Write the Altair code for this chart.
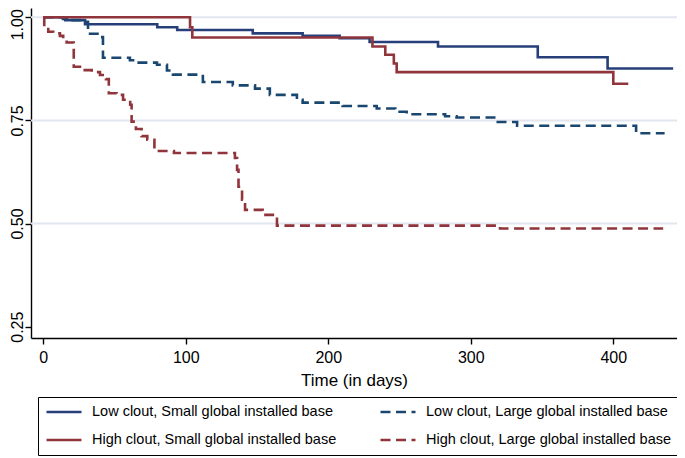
import altair as alt
import pandas as pd

series_names = [
    "Low clout, Small global installed base",
    "Low clout, Large global installed base",
    "High clout, Small global installed base",
    "High clout, Large global installed base",
]
series_colors = ["#263f7a", "#1a476f", "#90353b", "#90353b"]
series_dashes = [[1, 0], [10, 5.5], [1, 0], [10, 5.5]]

# Low clout, Small global installed base
low_small_days = [0, 15.4, 29.3, 80, 94, 147, 182, 208, 229, 277, 347, 396, 442]
low_small_surv = [1.0, 0.993, 0.983, 0.976, 0.969, 0.961, 0.955, 0.949, 0.940, 0.929, 0.903, 0.876, 0.876]

# High clout, Small global installed base
high_small_days = [0, 103, 104.6, 231, 240, 246, 248, 400, 410.5]
high_small_surv = [1.0, 0.976, 0.951, 0.929, 0.909, 0.888, 0.867, 0.839, 0.839]

# Low clout, Large global installed base
low_large_days = [0, 13.8, 16.6, 27.9, 31.4, 39.8, 41.9, 60.8, 65.8, 79.8, 86.8, 91, 112, 133,
                  148.6, 159, 178, 182, 210, 234, 247, 255, 282, 290, 317.7, 332.5, 416, 436]
low_large_surv = [1.0, 0.996, 0.993, 0.989, 0.960, 0.952, 0.902, 0.896, 0.890, 0.885, 0.871, 0.861, 0.843, 0.835,
                  0.827, 0.812, 0.800, 0.793, 0.785, 0.779, 0.771, 0.765, 0.760, 0.757, 0.746, 0.737, 0.719, 0.719]

# High clout, Large global installed base
high_large_days = [0, 0.7, 3.5, 7, 11.7, 14, 16.4, 21.4, 28, 34, 39.8, 44, 46, 51.5, 56, 61, 62, 65, 69, 73,
                   78, 91.7, 134.5, 136, 137, 139.5, 141.6, 154, 164, 320.5, 435]
high_large_surv = [1.0, 0.977, 0.965, 0.961, 0.955, 0.945, 0.939, 0.880, 0.872, 0.867, 0.860, 0.850, 0.816, 0.812,
                   0.800, 0.788, 0.747, 0.729, 0.712, 0.703, 0.676, 0.671, 0.659, 0.630, 0.589, 0.558, 0.533,
                   0.521, 0.495, 0.488, 0.488]

x_ticks = [0, 100, 200, 300, 400]
y_ticks = [0.25, 0.50, 0.75, 1.00]
grid_values = [0.50, 0.75, 1.00]

rows = []
for name, days, surv in [
    (series_names[0], low_small_days, low_small_surv),
    (series_names[1], low_large_days, low_large_surv),
    (series_names[2], high_small_days, high_small_surv),
    (series_names[3], high_large_days, high_large_surv),
]:
    for d, s in zip(days, surv):
        rows.append({"series": name, "day": d, "surv": s})
df = pd.DataFrame(rows)

x_scale = alt.Scale(domain=[-8.6, 444.7], nice=False, zero=False)
y_scale = alt.Scale(domain=[0.2225, 1.0225], nice=False, zero=False)

font = "Liberation Sans"

y_axis = alt.Axis(
    values=y_ticks,
    format=".2f",
    title=None,
    labelAngle=270,
    labelAlign="center",
    labelBaseline="alphabetic",
    labelPadding=3,
    labelOffset={"condition": {"test": "datum.value >= 0.99", "value": 7}, "value": 0},
)

grid = alt.Chart(pd.DataFrame({"g": grid_values})).mark_rule(
    color="#e1e6ef", strokeWidth=2
).encode(y=alt.Y("g:Q", scale=y_scale, axis=y_axis))

legend = alt.Legend(
    title=None,
    orient="none",
    direction="horizontal",
    legendX=7,
    legendY=389,
    columns=2,
    symbolType="stroke",
    symbolSize=1225,
    symbolStrokeWidth=2.6,
    labelFont=font,
    labelFontSize=14.5,
    labelColor="black",
    labelOffset=9,
    labelLimit=400,
    strokeColor="black",
    padding=7,
    columnPadding=42,
    rowPadding=12,
    clipHeight=16,
)

lines = alt.Chart(df).mark_line(interpolate="step-after", strokeWidth=2.6).encode(
    x=alt.X(
        "day:Q",
        scale=x_scale,
        axis=alt.Axis(values=x_ticks, title="Time (in days)", labelPadding=5, titlePadding=7),
    ),
    y=alt.Y("surv:Q", scale=y_scale, axis=y_axis),
    color=alt.Color(
        "series:N",
        sort=series_names,
        scale=alt.Scale(domain=series_names, range=series_colors),
        legend=legend,
    ),
    strokeDash=alt.StrokeDash(
        "series:N",
        sort=series_names,
        scale=alt.Scale(domain=series_names, range=series_dashes),
        legend=legend,
    ),
)

chart = (
    alt.layer(grid, lines)
    .properties(
        width=646,
        height=330,
        padding={"left": 23, "top": 0, "right": 0, "bottom": 118},
        autosize=alt.AutoSizeParams(type="none"),
    )
    .configure_view(stroke=None)
    .configure_axis(
        grid=False,
        domainColor="black",
        domainWidth=1.4,
        tickColor="black",
        tickWidth=1.4,
        tickSize=6,
        labelFont=font,
        labelFontSize=16,
        labelColor="black",
        titleFont=font,
        titleFontSize=17,
        titleFontWeight="normal",
        titleColor="black",
    )
)

chart.save("out.html", embed_options={"renderer": "svg", "actions": False})
